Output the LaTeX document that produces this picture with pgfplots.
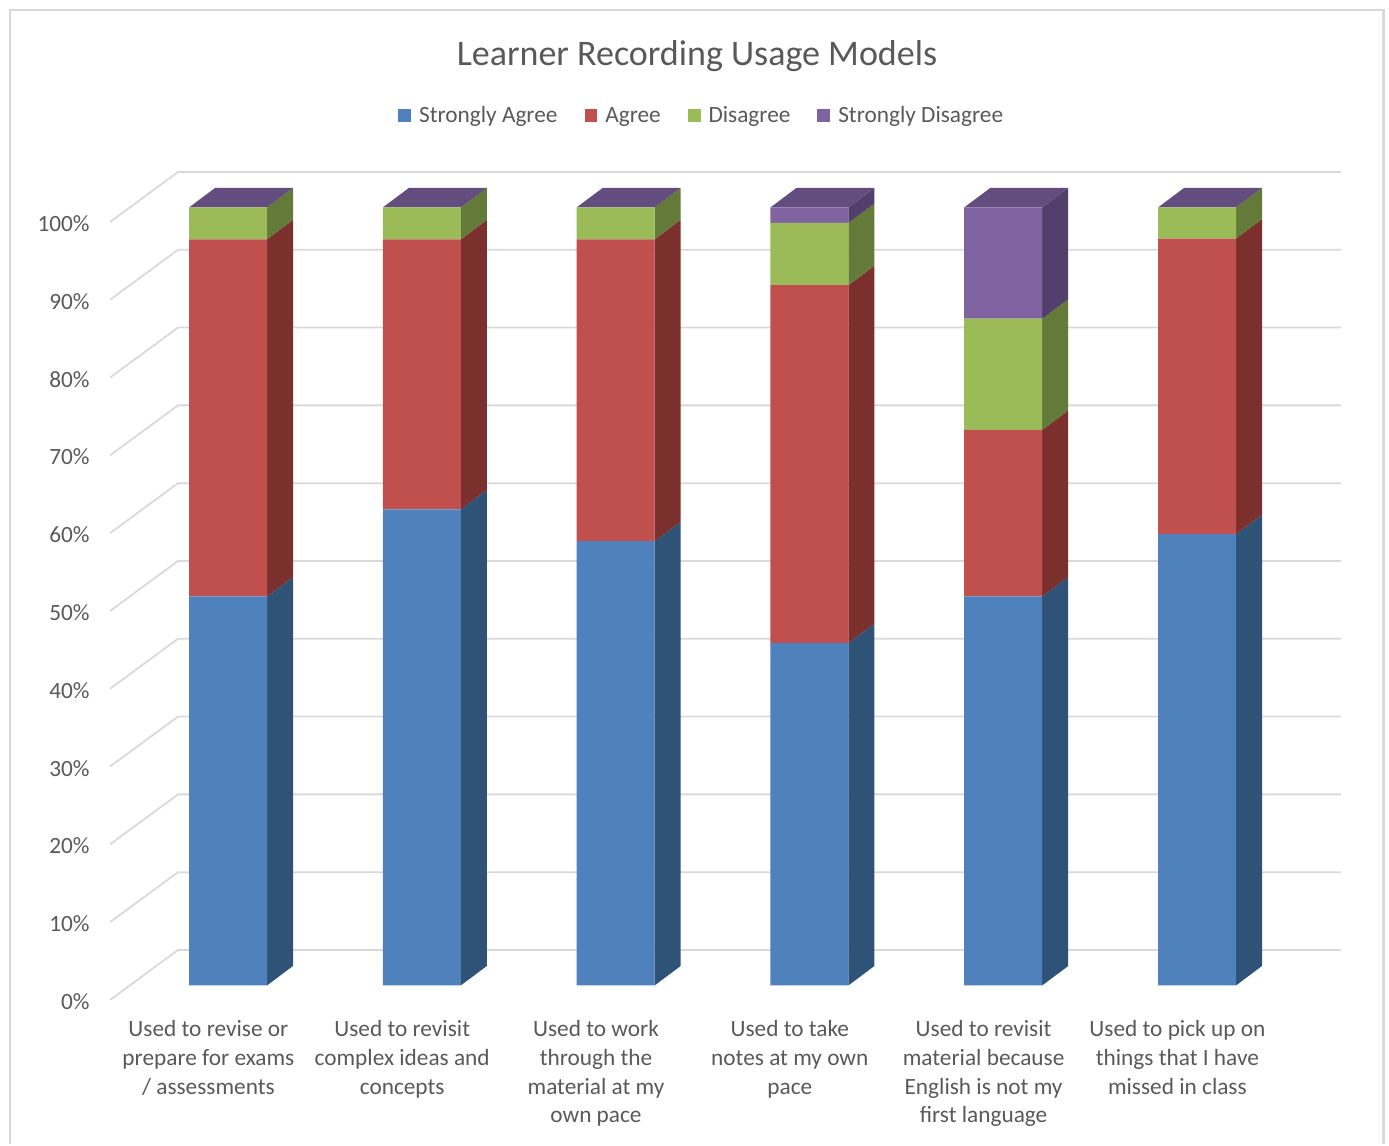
\documentclass[border=0pt]{standalone}
\usepackage{pgfplots}
\usepackage{pgfplotstable}
\usepackage{fontspec}
\setmainfont{Carlito}
\pgfplotsset{compat=1.18}

\definecolor{blueF}{HTML}{4F81BD}\definecolor{blueS}{HTML}{2F5277}
\definecolor{redF}{HTML}{C0504D}\definecolor{redS}{HTML}{7B302E}
\definecolor{greenF}{HTML}{9BBB59}\definecolor{greenS}{HTML}{647A38}
\definecolor{purpleF}{HTML}{8064A2}\definecolor{purpleS}{HTML}{533F6B}
\definecolor{purpleT}{HTML}{634C7E}
\definecolor{gridc}{HTML}{D9D9D9}
\definecolor{labelc}{HTML}{595959}

% category, then the share of answers per level (percent)
\pgfplotstableread{
cat sa   a    d    sd
0   50.0 45.9 4.1  0
1   61.2 34.7 4.1  0
2   57.1 38.8 4.1  0
3   44.0 46.0 8.0  2.0
4   50.0 21.4 14.3 14.3
5   58.0 38.0 4.0  0
}\usagetable

% depth of a bar, in axis units
\newcommand{\hw}{0.20124}
\newcommand{\dpx}{0.13416}
\newcommand{\dpy}{2.5}
% right-hand face of one stacked segment: category, low, high, colour
\newcommand{\sideface}[4]{%
  \addplot[fill=#4,draw=none,forget plot] coordinates
   {({#1+\hw},#2) ({#1+\hw+\dpx},{#2+\dpy}) ({#1+\hw+\dpx},{#3+\dpy}) ({#1+\hw},#3)} --cycle;}
% top face of a bar
\newcommand{\topface}[2]{%
  \addplot[fill=purpleT,draw=none,forget plot] coordinates
   {({#1-\hw},#2) ({#1+\hw},#2) ({#1+\hw+\dpx},{#2+\dpy}) ({#1-\hw+\dpx},{#2+\dpy})} --cycle;}

\pgfplotsset{
  common box/.style={
    scale only axis, width=615.5pt, height=414pt,
    at={(55pt,72pt)}, anchor=south west,
    xmin=-0.6089, xmax=5.7430,
  },
  bar frame/.style={common box, ymin=-1.87, ymax=104.557, hide axis},
}

\begin{document}
\begin{tikzpicture}[x=1pt,y=1pt]
\path (0,0) rectangle (694.5,572);
% chart frame
\draw[gridc,line width=1.3pt] (5,0) -- (5,567) -- (691.7,567) -- (691.7,0);

% walls: gridlines, value and category labels
\begin{axis}[common box,
  ymin=0, ymax=106.43,
  axis line style={draw=none}, major tick length=0pt, tick style={draw=none},
  ytick={0,10,...,100},
  /pgf/number format/assume math mode=true,
  yticklabel={\pgfmathprintnumber{\tick}\%},
  yticklabel style={font=\fontsize{11.65}{13}\selectfont,text=labelc,anchor=east,inner sep=0pt,xshift=-10pt,yshift=-0.8pt},
  xtick={0,1,2,3,4,5},
  xticklabels={
    {Used to revise or\\prepare for exams\\/ assessments},
    {Used to revisit\\complex ideas and\\concepts},
    {Used to work\\through the\\material at my\\own pace},
    {Used to take\\notes at my own\\pace},
    {Used to revisit\\material because\\English is not my\\first language},
    {Used to pick up on\\things that I have\\missed in class}},
  xticklabel style={font=\fontsize{11.65}{14.4}\selectfont,text=labelc,align=center,anchor=north,inner sep=0pt,xshift=-9.8pt,yshift=-10pt},
  title={Learner Recording Usage Models},
  title style={font=\fontsize{18}{21}\selectfont,text=labelc,at={(0.4768,1.1256)},anchor=center,inner sep=0pt},
]
\pgfplotsinvokeforeach{0,10,...,100}{
  \addplot[gridc,line width=0.9pt,forget plot] coordinates
    {(-0.6089,#1) (-0.2580,{#1+6.43}) (5.7430,{#1+6.43})};
}
\end{axis}

% side and top faces of the bars
\begin{axis}[bar frame]
\sideface{0}{0}{50.0}{blueS}\sideface{0}{50.0}{95.9}{redS}\sideface{0}{95.9}{100}{greenS}
\sideface{1}{0}{61.2}{blueS}\sideface{1}{61.2}{95.9}{redS}\sideface{1}{95.9}{100}{greenS}
\sideface{2}{0}{57.1}{blueS}\sideface{2}{57.1}{95.9}{redS}\sideface{2}{95.9}{100}{greenS}
\sideface{3}{0}{44.0}{blueS}\sideface{3}{44.0}{90.0}{redS}\sideface{3}{90.0}{98.0}{greenS}\sideface{3}{98.0}{100}{purpleS}
\sideface{4}{0}{50.0}{blueS}\sideface{4}{50.0}{71.4}{redS}\sideface{4}{71.4}{85.7}{greenS}\sideface{4}{85.7}{100}{purpleS}
\sideface{5}{0}{58.0}{blueS}\sideface{5}{58.0}{96.0}{redS}\sideface{5}{96.0}{100}{greenS}
\topface{0}{100}\topface{1}{100}\topface{2}{100}\topface{3}{100}\topface{4}{100}\topface{5}{100}
\end{axis}

% front faces of the stacked bars, with the legend
\begin{axis}[bar frame,
  ybar stacked, bar width=39pt,
  legend columns=4,
  legend style={at={(0.4815,1.0661)},anchor=center,draw=none,fill=none,
    font=\fontsize{11.65}{13}\selectfont,text=labelc,inner sep=0pt,
    nodes={text height=8pt,text depth=2.5pt},
    /tikz/every even column/.append style={column sep=11.5pt}},
  legend image code/.code={\fill[#1] (0pt,-2.2pt) rectangle (6.4pt,4.2pt);\path (8.4pt,1pt);},
]
\addplot[fill=blueF,draw=none] table[x=cat,y=sa]{\usagetable};
\addplot[fill=redF,draw=none] table[x=cat,y=a]{\usagetable};
\addplot[fill=greenF,draw=none] table[x=cat,y=d]{\usagetable};
\addplot[fill=purpleF,draw=none] table[x=cat,y=sd]{\usagetable};
\legend{Strongly Agree,Agree,Disagree,Strongly Disagree}
\end{axis}
\end{tikzpicture}
\end{document}
